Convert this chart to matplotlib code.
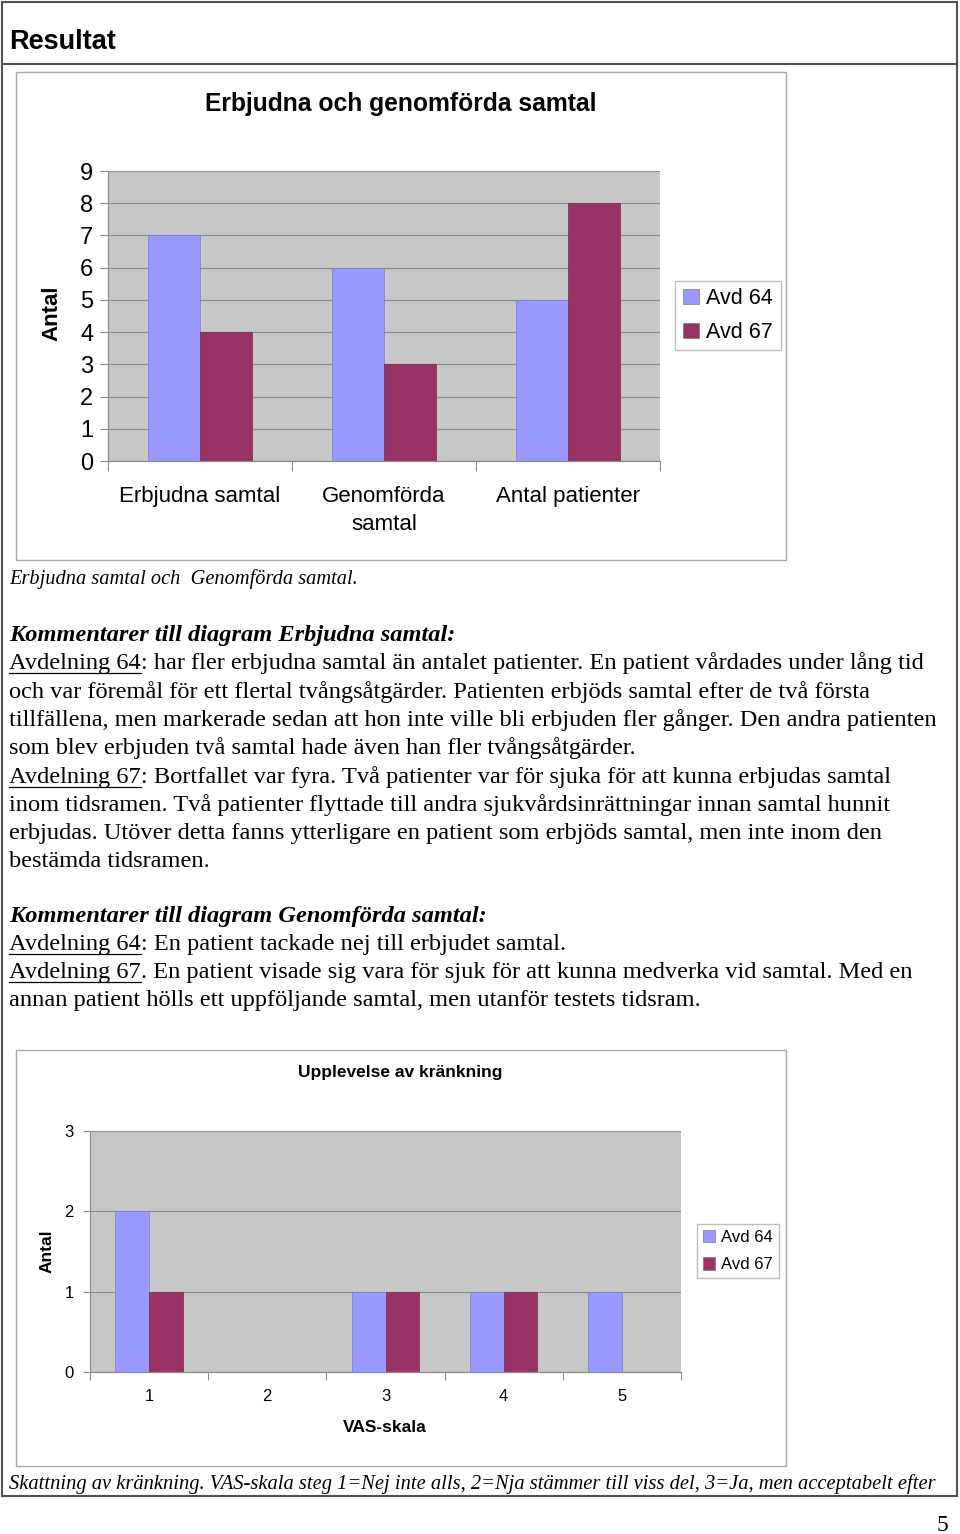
"""
Resultat - Erbjudna och genomförda samtal / Upplevelse av kränkning
"""

import matplotlib
matplotlib.use('Agg')
from matplotlib import pyplot as plt
from matplotlib.patches import Rectangle
from matplotlib.lines import Line2D
import numpy as np

W, H = 960, 1534

# chart 1: offered and completed talks
categories1 = ['Erbjudna samtal', 'Genomförda\nsamtal', 'Antal patienter']
avd64_talks = [7, 6, 5]
avd67_talks = [4, 3, 8]

# chart 2: VAS scale
vas_steps = ['1', '2', '3', '4', '5']
avd64_vas = [2, 0, 1, 1, 1]
avd67_vas = [1, 0, 1, 1, 0]

series_names = ['Avd 64', 'Avd 67']
colors = ['#9999FF', '#993366']

SANS = 'Liberation Sans'
SERIF = 'Liberation Serif'


def box(x0, y0, x1, y1):
    # pixel box (top-left origin) -> figure fraction
    return [x0 / W, 1 - y1 / H, (x1 - x0) / W, (y1 - y0) / H]


def fx(x):
    return x / W


def fy(y):
    return 1 - y / H


fig = plt.figure(figsize=(W / 100, H / 100), dpi=100)
fig.patch.set_facecolor('white')
r = fig.canvas.get_renderer()

# page frame
frame = dict(transform=fig.transFigure, color='#505050', lw=1.5)
fig.add_artist(Rectangle((fx(1.5), fy(1496)), fx(955), 1494 / H, fill=False,
                         edgecolor='#505050', lw=1.5, transform=fig.transFigure))
fig.add_artist(Line2D([fx(1.5), fx(956.5)], [fy(64), fy(64)], **frame))
fig.text(fx(9), fy(42), 'Resultat', family=SANS, fontsize=19.5, weight='bold',
         va='center', ha='left')

# chart boxes
for y0, y1 in [(72, 560), (1050, 1466)]:
    fig.add_artist(Rectangle((fx(16), fy(y1)), fx(770), (y1 - y0) / H, fill=False,
                             edgecolor='#a8a8a8', lw=1, transform=fig.transFigure))


def style_axes(ax, n, ymax, fs, pad_y, pad_x, ticklen):
    ax.set_facecolor('#C8C8C8')
    ax.set_xlim(-0.5, n - 0.5)
    ax.set_ylim(0, ymax)
    ax.set_yticks(range(ymax + 1))
    ax.yaxis.grid(True, color='#8c8c8c', lw=0.9)
    ax.set_axisbelow(True)
    for s in ['top', 'right']:
        ax.spines[s].set_visible(False)
    for s in ['left', 'bottom']:
        ax.spines[s].set_color('#8c8c8c')
        ax.spines[s].set_linewidth(0.9)
    ax.set_xticks(np.arange(n + 1) - 0.5)
    ax.set_xticklabels([])
    ax.tick_params(axis='x', which='major', length=ticklen, color='#8c8c8c')
    ax.tick_params(axis='y', length=ticklen * 0.8, color='#8c8c8c', labelsize=fs, pad=pad_y)
    ax.tick_params(axis='x', which='minor', length=0, labelsize=fs, pad=pad_x)
    for lab in ax.get_yticklabels():
        lab.set_family(SANS)


def draw_bars(ax, a, b):
    x = np.arange(len(a))
    bw = 0.285
    ax.bar(x - bw / 2, a, bw, color=colors[0], edgecolor='#7a7acc', lw=0.5)
    ax.bar(x + bw / 2, b, bw, color=colors[1], edgecolor='#7a2950', lw=0.5)


def legend_at(cx, cy, fs, spacing):
    handles = [Rectangle((0, 0), 1, 1, facecolor=c, edgecolor='#666666', lw=0.4) for c in colors]
    leg = fig.legend(handles, series_names, loc='center', bbox_to_anchor=(fx(cx), fy(cy)),
                     bbox_transform=fig.transFigure, prop={'family': SANS, 'size': fs},
                     frameon=True, fancybox=False, handlelength=0.75, handleheight=0.75,
                     handletextpad=0.35, borderpad=0.35, labelspacing=spacing, borderaxespad=0)
    leg.get_frame().set_edgecolor('#b0b0b0')
    leg.get_frame().set_linewidth(1)


# ---- chart 1
ax1 = fig.add_axes(box(108, 171, 660, 461))
draw_bars(ax1, avd64_talks, avd67_talks)
style_axes(ax1, 3, 9, 17, 5, 18, 7)
ax1.set_xticks(np.arange(3), minor=True)
ax1.set_xticklabels(categories1, minor=True, family=SANS, fontsize=16,
                    linespacing=1.45, va='top')
fig.text(fx(401), fy(104), 'Erbjudna och genomförda samtal', family=SANS,
         fontsize=17.7, weight='bold', ha='center', va='center')
fig.text(fx(52), fy(313), 'Antal', family=SANS, fontsize=16, weight='bold',
         rotation=90, ha='center', va='center')
legend_at(728, 315.5, 15.5, 0.6)

# ---- chart 2
ax2 = fig.add_axes(box(90, 1131, 681, 1372))
draw_bars(ax2, avd64_vas, avd67_vas)
style_axes(ax2, 5, 3, 12, 7, 12, 6)
ax2.set_xticks(np.arange(5), minor=True)
ax2.set_xticklabels(vas_steps, minor=True, family=SANS, fontsize=12)
fig.text(fx(400), fy(1073), 'Upplevelse av kränkning', family=SANS,
         fontsize=12.5, weight='bold', ha='center', va='center')
fig.text(fx(385), fy(1428), 'VAS-skala', family=SANS, fontsize=12.5,
         weight='bold', ha='center', va='center')
fig.text(fx(47), fy(1251), 'Antal', family=SANS, fontsize=12.5, weight='bold',
         rotation=90, ha='center', va='center')
legend_at(738, 1251, 12, 0.75)

# ---- body text
FS = 17.6


def line(y, parts):
    x = 9
    for txt, under, kw in parts:
        t = fig.text(fx(x), fy(y), txt, family=SERIF, fontsize=FS, va='baseline',
                     ha='left', **kw)
        bb = t.get_window_extent(renderer=r)
        if under:
            fig.add_artist(Line2D([fx(x), bb.x1 / W], [fy(y + 4), fy(y + 4)],
                                  transform=fig.transFigure, color='black', lw=0.9))
        x = bb.x1


def plain(s):
    return (s, False, {})


def und(s):
    return (s, True, {})


head = {'weight': 'bold', 'style': 'italic'}

block1 = [
    [('Kommentarer till diagram Erbjudna samtal:', False, head)],
    [und('Avdelning 64'), plain(': har fler erbjudna samtal än antalet patienter. En patient vårdades under lång tid')],
    [plain('och var föremål för ett flertal tvångsåtgärder. Patienten erbjöds samtal efter de två första')],
    [plain('tillfällena, men markerade sedan att hon inte ville bli erbjuden fler gånger. Den andra patienten')],
    [plain('som blev erbjuden två samtal hade även han fler tvångsåtgärder.')],
    [und('Avdelning 67'), plain(': Bortfallet var fyra. Två patienter var för sjuka för att kunna erbjudas samtal')],
    [plain('inom tidsramen. Två patienter flyttade till andra sjukvårdsinrättningar innan samtal hunnit')],
    [plain('erbjudas. Utöver detta fanns ytterligare en patient som erbjöds samtal, men inte inom den')],
    [plain('bestämda tidsramen.')],
]
block2 = [
    [('Kommentarer till diagram Genomförda samtal:', False, head)],
    [und('Avdelning 64'), plain(': En patient tackade nej till erbjudet samtal.')],
    [und('Avdelning 67'), plain('. En patient visade sig vara för sjuk för att kunna medverka vid samtal. Med en')],
    [plain('annan patient hölls ett uppföljande samtal, men utanför testets tidsram.')],
]

for i, parts in enumerate(block1):
    line(641 + 28.3 * i, parts)
for i, parts in enumerate(block2):
    line(922 + 28.1 * i, parts)

fig.text(fx(9), fy(584), 'Erbjudna samtal och  Genomförda samtal.', family=SERIF,
         fontsize=14.7, style='italic', va='baseline', ha='left')
fig.text(fx(9), fy(1489), 'Skattning av kränkning. VAS-skala steg 1=Nej inte alls, '
         '2=Nja stämmer till viss del, 3=Ja, men acceptabelt efter', family=SERIF,
         fontsize=14.8, style='italic', va='baseline', ha='left')
fig.text(fx(942), fy(1531), '5', family=SERIF, fontsize=17, va='baseline', ha='center')

fig.savefig('out.png', dpi=100)
